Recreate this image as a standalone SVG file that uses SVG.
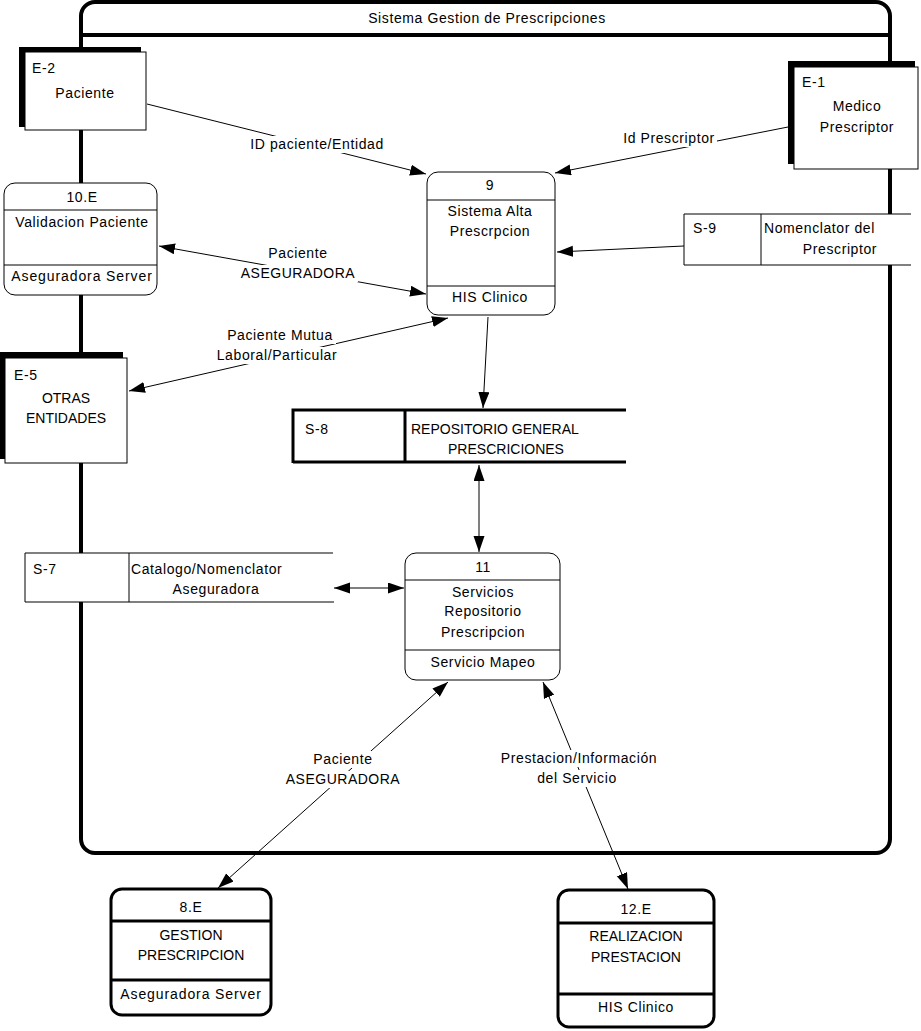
<svg xmlns="http://www.w3.org/2000/svg" width="921" height="1031" viewBox="0 0 921 1031">
<style>
text{font-family:"Liberation Sans",Arial,sans-serif;font-size:14px;fill:#000;letter-spacing:0.6px}
.k{letter-spacing:0}
.c{text-anchor:middle}
.thin{fill:#fff;stroke:#000;stroke-width:1}
.thick{fill:#fff;stroke:#000;stroke-width:3}
.ln{stroke:#000;stroke-width:1;fill:none}
.tl{stroke:#000;stroke-width:3;fill:none}
.con{stroke:#000;stroke-width:1;fill:none;marker-end:url(#ah)}
.bi{stroke:#000;stroke-width:1;fill:none;marker-end:url(#ah);marker-start:url(#ah)}
.lb{fill:#fff;stroke:none}
</style>
<defs>
<marker id="ah" markerUnits="userSpaceOnUse" markerWidth="17" markerHeight="12" refX="16" refY="5.5" orient="auto-start-reverse">
<path d="M0,0 L16,5.5 L0,11 z" fill="#000"/>
</marker>
</defs>
<rect x="0" y="0" width="921" height="1031" fill="#fff"/>

<g id="boundary">
<rect x="81" y="2" width="809" height="851" rx="14" fill="none" stroke="#000" stroke-width="4"/>
<line x1="81" y1="35" x2="890" y2="35" stroke="#000" stroke-width="4"/>
<text class="c" x="487" y="23">Sistema Gestion de Prescripciones</text>
</g>

<g id="E-2">
<rect x="19" y="47" width="122" height="80" fill="#000"/>
<rect class="thin" x="25" y="52" width="121" height="78"/>
<text x="32" y="73">E-2</text>
<text class="c" x="85" y="98">Paciente</text>
</g>

<g id="E-1">
<rect x="788" y="61" width="127" height="103" fill="#000"/>
<rect class="thin" x="794" y="67" width="124" height="102"/>
<text x="802" y="87">E-1</text>
<text class="c" x="857" y="111">Medico</text>
<text class="c" x="857" y="132">Prescriptor</text>
</g>

<g id="P10E">
<rect class="thin" x="4" y="183" width="153" height="112" rx="11"/>
<line class="ln" x1="4" y1="210" x2="157" y2="210"/>
<line class="ln" x1="4" y1="265" x2="157" y2="265"/>
<text class="c" x="82" y="202">10.E</text>
<text class="c" x="82" y="227">Validacion Paciente</text>
<text class="c" x="82" y="281" style="letter-spacing:0.9px">Aseguradora Server</text>
</g>

<g id="P9">
<rect class="thin" x="427" y="172" width="128" height="143" rx="11"/>
<line class="ln" x1="427" y1="200" x2="555" y2="200"/>
<line class="ln" x1="427" y1="286" x2="555" y2="286"/>
<text class="c" x="490" y="190">9</text>
<text class="c" x="490" y="216">Sistema Alta</text>
<text class="c" x="490" y="236">Prescrpcion</text>
<text class="c" x="490" y="302">HIS Clinico</text>
</g>

<g id="S-9">
<rect x="684" y="214" width="227" height="51" fill="#fff"/>
<path class="ln" d="M911,214 H684 V265 H911 M761,214 V265"/>
<text x="693" y="233">S-9</text>
<text x="764" y="233">Nomenclator del</text>
<text class="c" x="840" y="254">Prescriptor</text>
</g>

<g id="E-5">
<rect x="0" y="352" width="123" height="107" fill="#000"/>
<rect class="thin" x="5" y="358" width="122" height="105"/>
<text x="14" y="380">E-5</text>
<text class="c k" x="66" y="403">OTRAS</text>
<text class="c k" x="66" y="423">ENTIDADES</text>
</g>

<g id="S-8">
<rect x="293" y="410" width="333" height="52" fill="#fff"/>
<path class="tl" d="M626,410 H293 V463 M293,462 H626 M405,410 V463"/>
<text x="305" y="434">S-8</text>
<text class="k" x="411" y="434">REPOSITORIO GENERAL</text>
<text class="c k" x="506" y="454">PRESCRICIONES</text>
</g>

<g id="S-7">
<rect x="25" y="553" width="308" height="49" fill="#fff"/>
<path class="ln" d="M333,553 H25 V602 H334 M129,553 V602"/>
<text x="33" y="574">S-7</text>
<text x="131" y="574">Catalogo/Nomenclator</text>
<text class="c" x="216" y="594">Aseguradora</text>
</g>

<g id="P11">
<rect class="thin" x="405" y="553" width="155" height="127" rx="11"/>
<line class="ln" x1="405" y1="580" x2="560" y2="580"/>
<line class="ln" x1="405" y1="650" x2="560" y2="650"/>
<text class="c" x="483" y="572">11</text>
<text class="c" x="483" y="597">Servicios</text>
<text class="c" x="483" y="616">Repositorio</text>
<text class="c" x="483" y="637">Prescripcion</text>
<text class="c" x="483" y="667">Servicio Mapeo</text>
</g>

<g id="P8E">
<rect class="thick" x="111" y="889" width="160" height="126" rx="11"/>
<line class="tl" x1="111" y1="921" x2="271" y2="921"/>
<line class="tl" x1="111" y1="980" x2="271" y2="980"/>
<text class="c" x="191" y="912">8.E</text>
<text class="c k" x="191" y="940">GESTION</text>
<text class="c k" x="191" y="960">PRESCRIPCION</text>
<text class="c" x="191" y="999" style="letter-spacing:0.9px">Aseguradora Server</text>
</g>

<g id="P12E">
<rect class="thick" x="558" y="890" width="156" height="137" rx="11"/>
<line class="tl" x1="558" y1="923" x2="714" y2="923"/>
<line class="tl" x1="558" y1="994" x2="714" y2="994"/>
<text class="c" x="636" y="914">12.E</text>
<text class="c k" x="636" y="941">REALIZACION</text>
<text class="c k" x="636" y="962">PRESTACION</text>
<text class="c" x="636" y="1012">HIS Clinico</text>
</g>

<g id="connectors">
<line class="con" x1="147" y1="104" x2="426" y2="174"/>
<line class="con" x1="788" y1="127" x2="555" y2="173"/>
<line class="con" x1="684" y1="246" x2="557" y2="252"/>
<line class="bi" x1="159" y1="246" x2="426" y2="294"/>
<line class="bi" x1="129" y1="391" x2="448" y2="318"/>
<line class="con" x1="488" y1="317" x2="483" y2="408"/>
<line class="bi" x1="479" y1="465" x2="479" y2="552"/>
<line class="bi" x1="334" y1="588" x2="404" y2="588"/>
<line class="bi" x1="448" y1="682" x2="218" y2="888"/>
<line class="bi" x1="543" y1="682" x2="628" y2="889"/>
<rect class="lb" x="250" y="136" width="134" height="17"/>
<text class="c" x="317" y="149">ID paciente/Entidad</text>
<rect class="lb" x="621" y="130" width="96" height="17"/>
<text class="c" x="669" y="143">Id Prescriptor</text>
<rect class="lb" x="266" y="245" width="64" height="17"/>
<text class="c" x="298" y="258">Paciente</text>
<rect class="lb" x="238" y="265" width="120" height="17"/>
<text class="c" x="298" y="278" style="letter-spacing:0.5px">ASEGURADORA</text>
<rect class="lb" x="224" y="327" width="112" height="17"/>
<text class="c" x="280" y="340">Paciente Mutua</text>
<rect class="lb" x="215" y="347" width="124" height="17"/>
<text class="c" x="277" y="360">Laboral/Particular</text>
<rect class="lb" x="312" y="751" width="62" height="17"/>
<text class="c" x="343" y="764">Paciente</text>
<rect class="lb" x="283" y="771" width="120" height="17"/>
<text class="c" x="343" y="784" style="letter-spacing:0.5px">ASEGURADORA</text>
<rect class="lb" x="498" y="750" width="162" height="17"/>
<text class="c" x="579" y="763">Prestacion/Información</text>
<rect class="lb" x="534" y="770" width="86" height="17"/>
<text class="c" x="577" y="783">del Servicio</text>
</g>
</svg>
